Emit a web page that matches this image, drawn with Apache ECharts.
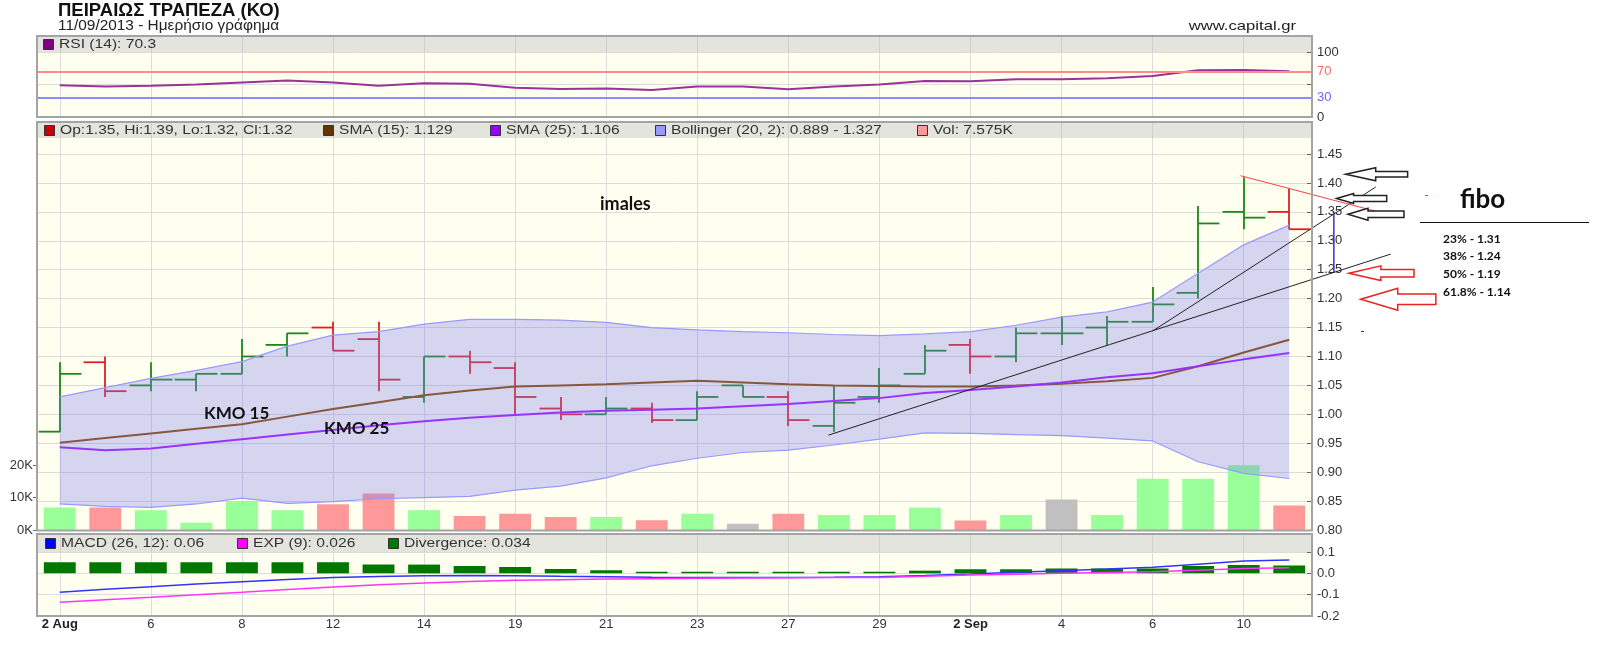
<!DOCTYPE html>
<html><head><meta charset="utf-8">
<script src="https://cdn.jsdelivr.net/npm/echarts@6.0.0/dist/echarts.min.js"></script>
<style>html,body{margin:0;padding:0;background:#fff;}#c{width:1600px;height:651px;}</style>
</head><body><div id="c"></div>
<script>
// ---------- DATA ----------
const dates = ['2013-08-02','2013-08-05','2013-08-06','2013-08-07','2013-08-08','2013-08-09','2013-08-12','2013-08-13','2013-08-14','2013-08-16','2013-08-19','2013-08-20','2013-08-21','2013-08-22','2013-08-23','2013-08-26','2013-08-27','2013-08-28','2013-08-29','2013-08-30','2013-09-02','2013-09-03','2013-09-04','2013-09-05','2013-09-06','2013-09-09','2013-09-10','2013-09-11'];
const tickLabels = ['2 Aug','6','8','12','14','19','21','23','27','29','2 Sep','4','6','10'];
const opens  = [0.97,1.09,1.05,1.06,1.07,1.12,1.15,1.13,1.03,1.10,1.08,1.01,1.00,1.01,0.99,1.05,1.03,0.98,1.03,1.07,1.12,1.10,1.14,1.15,1.16,1.21,1.35,1.35];
const highs  = [1.09,1.10,1.09,1.07,1.13,1.14,1.16,1.16,1.10,1.11,1.09,1.03,1.03,1.02,1.04,1.05,1.04,1.05,1.08,1.12,1.13,1.15,1.17,1.17,1.22,1.36,1.41,1.39];
const lows   = [0.97,1.03,1.04,1.04,1.07,1.10,1.11,1.04,1.02,1.07,1.00,0.99,1.00,0.985,0.99,1.03,0.98,0.97,1.02,1.07,1.07,1.09,1.12,1.12,1.16,1.20,1.32,1.32];
const closes = [1.07,1.04,1.06,1.07,1.10,1.14,1.11,1.06,1.10,1.09,1.03,1.00,1.01,0.99,1.03,1.03,0.99,1.02,1.05,1.11,1.10,1.14,1.14,1.16,1.19,1.33,1.34,1.32];
const volumes = [6900,6900,6100,2200,8900,6100,7900,11200,6100,4300,5000,4000,4000,3000,5000,1900,5000,4600,4600,6900,2900,4600,9400,4600,15800,15800,19900,7575];
const sma15 = [0.951,0.959,0.967,0.975,0.983,0.996,1.009,1.021,1.033,1.041,1.048,1.050,1.052,1.055,1.058,1.055,1.052,1.050,1.049,1.048,1.048,1.050,1.053,1.057,1.063,1.083,1.107,1.129];
const sma25 = [0.943,0.938,0.941,0.949,0.957,0.965,0.973,0.981,0.988,0.994,0.999,1.003,1.006,1.008,1.010,1.014,1.018,1.023,1.028,1.037,1.042,1.048,1.055,1.064,1.071,1.083,1.095,1.106];
const bbUpper = [1.030,1.046,1.062,1.076,1.091,1.118,1.137,1.143,1.156,1.164,1.164,1.163,1.159,1.150,1.146,1.143,1.141,1.138,1.136,1.139,1.143,1.154,1.168,1.177,1.194,1.244,1.293,1.327];
const bbLower = [0.845,0.841,0.839,0.845,0.855,0.846,0.849,0.854,0.856,0.858,0.869,0.876,0.890,0.911,0.924,0.934,0.938,0.947,0.957,0.968,0.967,0.965,0.963,0.959,0.954,0.918,0.898,0.889];
const rsi = [49,47,48,50,53,56,53,48,52,51,45,43,44,41.5,47,47,42.6,47,50,55.5,55,58,58,59.5,63,72,72.3,70.3];
const macd = [-0.089,-0.075,-0.0625,-0.050,-0.039,-0.029,-0.020,-0.015,-0.011,-0.010,-0.011,-0.014,-0.016,-0.018,-0.019,-0.019,-0.019,-0.018,-0.016,-0.010,-0.003,0.005,0.0125,0.020,0.028,0.043,0.058,0.063];
const macdExp = [-0.136,-0.124,-0.1125,-0.100,-0.089,-0.076,-0.064,-0.054,-0.045,-0.038,-0.033,-0.030,-0.027,-0.025,-0.023,-0.022,-0.021,-0.020,-0.019,-0.014,-0.008,-0.004,0.0,0.004,0.008,0.015,0.023,0.026];
const divergence = [0.052,0.052,0.052,0.052,0.052,0.052,0.052,0.041,0.041,0.034,0.030,0.020,0.014,0.008,0.007,0.007,0.007,0.007,0.007,0.0125,0.019,0.019,0.023,0.023,0.023,0.034,0.039,0.037];
const rsiLevels = [70, 30];
// hand-drawn annotations, in (bar index, price) units
const trendLines = [[[16.88,0.964],[29.23,1.277]], [[24.0,1.144],[28.9,1.393]]];
const resistLine = [[25.93,1.4125],[28.9,1.351]];
const fiboSpan = [[27.98,1.35],[27.98,1.246]];
const blackArrows = [[28.24,1.415,29.60],[28.04,1.373,29.14],[28.29,1.346,29.52]];
const redArrows = [[28.31,1.244,29.74],[28.57,1.199,30.22]];
const fiboLevels = ['23% - 1.31','38% - 1.24','50% - 1.19','61.8% - 1.14'];

// ---------- STYLE / LAYOUT ----------
const L = 37, W = 1275;
const UI = 'Liberation Sans, Arial, sans-serif';
const ANN = 'Lato, Open Sans, sans-serif';
const GRID_C = '#dcdcdc', HEAD_GRID_C = '#cfcfc8', HEAD_BG = '#e4e4de', PLOT_BG = '#fffff0';
const UP = '#1a881a', DOWN = '#e02020';
const volColors = closes.map((c,i)=> i===0 ? '#99ff99' : (c>closes[i-1] ? '#99ff99' : (c<closes[i-1] ? '#ff9999' : '#c0c0c0')));
const barColors = closes.map((c,i)=> i===0 || c>=closes[i-1] ? UP : DOWN);
const blackArrowShapes = [[30,6.5,2.8],[17,5,3],[20,6,3.3]];
const redArrowShapes = [[32,7.3,3.7],[37,11,5.3]];

const grids = [
  {left:L, top:36,  width:W, height:16,  show:true, backgroundColor:HEAD_BG, borderWidth:0},
  {left:L, top:52,  width:W, height:65,  show:true, backgroundColor:PLOT_BG, borderWidth:0},
  {left:L, top:122, width:W, height:16,  show:true, backgroundColor:HEAD_BG, borderWidth:0},
  {left:L, top:138, width:W, height:392, show:true, backgroundColor:PLOT_BG, borderWidth:0},
  {left:L, top:465, width:W, height:65,  show:false},
  {left:L, top:534, width:W, height:18,  show:true, backgroundColor:HEAD_BG, borderWidth:0},
  {left:L, top:552, width:W, height:64,  show:true, backgroundColor:PLOT_BG, borderWidth:0}
];
function catAxis(gi, color, extra){
  return Object.assign({type:'category', gridIndex:gi, data:dates, boundaryGap:true,
    axisLine:{show:false, onZero:false}, axisTick:{show:false}, axisLabel:{show:false},
    splitLine:{show:true, interval:1, alignWithLabel:true, lineStyle:{color:color, width:1}}}, extra||{});
}
const xAxes = [
  catAxis(0, HEAD_GRID_C), catAxis(1, GRID_C), catAxis(2, HEAD_GRID_C), catAxis(3, GRID_C),
  catAxis(4, GRID_C, {show:false}),
  catAxis(5, HEAD_GRID_C),
  catAxis(6, GRID_C, {axisLabel:{show:true, interval:1, margin:2, fontSize:13, color:'#333', fontFamily:UI,
      formatter:(v,i)=>{const t = tickLabels[i/2]; return t.indexOf(' ')>=0 ? '{b|'+t+'}' : t;},
      rich:{b:{fontWeight:'bold', fontSize:13, color:'#222', fontFamily:UI}}}}),
  {type:'value', gridIndex:3, min:-0.5, max:27.5, show:false, axisLine:{onZero:false}}
];
const lab = {color:'#333', fontSize:13, fontFamily:UI, margin:5};
const tickIn = {show:true, inside:true, length:5, lineStyle:{color:'#666'}};
const yAxes = [
  {type:'value', gridIndex:0, min:0, max:1, show:false, axisLine:{onZero:false}},
  {type:'value', gridIndex:1, min:0, max:100, interval:50, position:'right',
    axisLine:{show:false, onZero:false}, axisTick:tickIn,
    axisLabel:Object.assign({}, lab, {formatter:v=> v===50?'':String(v)}),
    splitLine:{show:true, lineStyle:{color:GRID_C}}},
  {type:'value', gridIndex:2, min:0, max:1, show:false, axisLine:{onZero:false}},
  {type:'value', gridIndex:3, min:0.8, max:1.4777, interval:0.05, position:'right',
    axisLine:{show:false, onZero:false}, axisTick:tickIn,
    axisLabel:Object.assign({}, lab, {showMaxLabel:false, formatter:v=>v.toFixed(2)}),
    splitLine:{show:true, showMaxLine:false, lineStyle:{color:GRID_C}}},
  {type:'value', gridIndex:4, min:0, max:20000, interval:10000, position:'left',
    axisLine:{show:false, onZero:false}, axisTick:{show:true, length:4, lineStyle:{color:'#666'}},
    axisLabel:Object.assign({}, lab, {margin:4, formatter:v=>(v/1000)+'K'}),
    splitLine:{show:false}},
  {type:'value', gridIndex:5, min:0, max:1, show:false, axisLine:{onZero:false}},
  {type:'value', gridIndex:6, min:-0.2, max:0.1, interval:0.1, position:'right',
    axisLine:{show:false, onZero:false}, axisTick:tickIn,
    axisLabel:Object.assign({}, lab, {formatter:v=>(Math.abs(v)<1e-9?0:v).toFixed(1)}),
    splitLine:{show:true, lineStyle:{color:GRID_C}}}
];

function arrowSeries(data, shapes, color){
  return {type:'custom', xAxisIndex:7, yAxisIndex:3, clip:false, silent:true, z:10,
    data:data, encode:{x:0, y:1},
    renderItem:(params, api)=>{
      const tip = api.coord([api.value(0), api.value(1)]);
      const tail = api.coord([api.value(2), api.value(1)]);
      const s = shapes[params.dataIndex];
      const x0 = tip[0], y0 = tip[1], xb = x0 + s[0], xt = tail[0];
      return {type:'polygon', shape:{points:[[x0,y0],[xb,y0-s[1]],[xb,y0-s[2]],[xt,y0-s[2]],[xt,y0+s[2]],[xb,y0+s[2]],[xb,y0+s[1]]]},
        style:{fill:'#ffffff', stroke:color, lineWidth:1.5}};
    }};
}
function annLines(segs, color, width){
  return {type:'custom', xAxisIndex:7, yAxisIndex:3, clip:false, silent:true, z:9,
    data:segs.map(s=>[s[0][0], s[0][1], s[1][0], s[1][1]]), encode:{x:[0,2], y:[1,3]},
    renderItem:(params, api)=>{
      const a = api.coord([api.value(0), api.value(1)]);
      const b = api.coord([api.value(2), api.value(3)]);
      return {type:'line', shape:{x1:a[0], y1:a[1], x2:b[0], y2:b[1]}, style:{stroke:color, lineWidth:width}};
    }};
}

const series = [
  {type:'line', name:'RSI', xAxisIndex:1, yAxisIndex:1, data:rsi, symbol:'none', silent:true,
    lineStyle:{color:'#993399', width:2},
    markLine:{symbol:'none', silent:true, animation:false,
      data:[
        {yAxis:rsiLevels[0], lineStyle:{color:'#ff8c8c', width:2, type:'solid'}, label:{formatter:String(rsiLevels[0]), color:'#ff6666', fontSize:13, fontFamily:UI, distance:5}},
        {yAxis:rsiLevels[1], lineStyle:{color:'#8c8cff', width:2, type:'solid'}, label:{formatter:String(rsiLevels[1]), color:'#6666ff', fontSize:13, fontFamily:UI, distance:5}}
      ]}, z:2},
  {type:'bar', name:'Vol', xAxisIndex:4, yAxisIndex:4, barWidth:'70%', silent:true,
    data:volumes.map((v,i)=>({value:v, itemStyle:{color:volColors[i]}}))},
  {type:'line', name:'bbLow', xAxisIndex:3, yAxisIndex:3, stack:'bb', data:bbLower, symbol:'none', silent:true,
    lineStyle:{color:'#9999ff', width:1.2}},
  {type:'line', name:'bbBand', xAxisIndex:3, yAxisIndex:3, stack:'bb', data:bbUpper.map((u,i)=>+(u-bbLower[i]).toFixed(4)), symbol:'none', silent:true,
    lineStyle:{color:'#9999ff', width:1.2}, areaStyle:{color:'rgba(125,125,235,0.32)', opacity:1}},
  {type:'line', name:'SMA15', xAxisIndex:3, yAxisIndex:3, data:sma15, symbol:'none', silent:true,
    lineStyle:{color:'#87583a', width:2}},
  {type:'line', name:'SMA25', xAxisIndex:3, yAxisIndex:3, data:sma25, symbol:'none', silent:true,
    lineStyle:{color:'#9933ff', width:2}},
  {type:'custom', name:'OHLC', xAxisIndex:3, yAxisIndex:3, silent:true,
    data:dates.map((d,i)=>[i, opens[i], highs[i], lows[i], closes[i]]),
    encode:{x:0, y:[1,2,3,4]},
    renderItem:(params, api)=>{
      const i = api.value(0);
      const pO = api.coord([i, api.value(1)]), pH = api.coord([i, api.value(2)]);
      const pL = api.coord([i, api.value(3)]), pC = api.coord([i, api.value(4)]);
      const w = api.size([1,0])[0]*0.47;
      const st = {stroke:barColors[params.dataIndex], lineWidth:1.8};
      const x = Math.round(pH[0]);
      return {type:'group', children:[
        {type:'line', shape:{x1:x, y1:pH[1], x2:x, y2:pL[1]}, style:st},
        {type:'line', shape:{x1:x-w, y1:pO[1], x2:x, y2:pO[1]}, style:st},
        {type:'line', shape:{x1:x, y1:pC[1], x2:x+w, y2:pC[1]}, style:st}
      ]};
    }},
  annLines(trendLines, '#222', 1),
  annLines([resistLine], '#ff4040', 1),
  annLines([fiboSpan], '#3333cc', 1.5),
  arrowSeries(blackArrows, blackArrowShapes, '#222'),
  arrowSeries(redArrows, redArrowShapes, '#ee2020'),
  {type:'bar', name:'Divergence', xAxisIndex:6, yAxisIndex:6, data:divergence, barWidth:'70%', silent:true,
    itemStyle:{color:'#007700'}},
  {type:'line', name:'MACD', xAxisIndex:6, yAxisIndex:6, data:macd, symbol:'none', silent:true,
    lineStyle:{color:'#3333ff', width:1.5}},
  {type:'line', name:'EXP', xAxisIndex:6, yAxisIndex:6, data:macdExp, symbol:'none', silent:true,
    lineStyle:{color:'#ff33ff', width:1.5}}
];

// ---------- GRAPHICS (text, frames) ----------
function txt(x, y, text, size, opts){
  opts = opts || {};
  return {type:'text', x:x, y:y, scaleX:opts.sx||1, z:100, silent:true,
    style:{text:text, fontSize:size, fontFamily:opts.ff||UI, fontWeight:opts.fw||'normal', fill:opts.fill||'#222',
      align:opts.align||'left', verticalAlign:'middle', textAlign:opts.align||'left', textVerticalAlign:'middle'}};
}
const g = [];
g.push(txt(58, 10.5, 'ΠΕΙΡΑΙΩΣ ΤΡΑΠΕΖΑ (ΚΟ)', 18.5, {fw:'bold', fill:'#111'}));
g.push(txt(58, 26.5, '11/09/2013 - Ημερήσιο γράφημα', 14, {sx:1.1, fill:'#222'}));
g.push(txt(1296, 26, 'www.capital.gr', 13, {align:'right', sx:1.28, fill:'#222'}));
function legend(items, xs, y){
  items.forEach((it, k)=>{
    g.push({type:'rect', z:100, silent:true, shape:{x:xs[k]+0.5, y:y-5+0.5, width:10, height:10},
      style:{fill:it[1], stroke:'#333', lineWidth:1}});
    g.push(txt(xs[k]+16, y+0.5, it[0], 12, {sx:1.3, fill:'#333'}));
  });
}
legend([['RSI (14): 70.3','#800080']], [43], 44);
legend([['Op:1.35, Hi:1.39, Lo:1.32, Cl:1.32','#cc0000'],['SMA (15): 1.129','#663300'],['SMA (25): 1.106','#9900ff'],
        ['Bollinger (20, 2): 0.889 - 1.327','#9999ff'],['Vol: 7.575K','#ff9999']], [44,323,490,655,917], 130);
legend([['MACD (26, 12): 0.06','#0000ff'],['EXP (9): 0.026','#ff00ff'],['Divergence: 0.034','#007700']], [45,237,388], 543);
[[36,81],[122,408.5],[534,82]].forEach(f=>{
  g.push({type:'rect', z:101, silent:true, shape:{x:L, y:f[0], width:W, height:f[1]}, style:{fill:'none', stroke:'#a4a4a4', lineWidth:2}});
});
g.push(txt(600, 204, 'imales', 18, {ff:ANN, fw:'bold', fill:'#111'}));
g.push(txt(204, 414, 'KMO 15', 17, {ff:ANN, fw:'bold', fill:'#111'}));
g.push(txt(324, 428.5, 'KMO 25', 17, {ff:ANN, fw:'bold', fill:'#111'}));
g.push(txt(1460, 200, 'fibo', 26, {ff:ANN, fw:'bold', fill:'#111'}));
g.push({type:'line', z:100, silent:true, shape:{x1:1420, y1:222.5, x2:1589, y2:222.5}, style:{stroke:'#111', lineWidth:1}});
fiboLevels.forEach((t,k)=> g.push(txt(1443, 239 + k*17.6, t, 12, {ff:ANN, fw:'bold', fill:'#111'})));
g.push({type:'line', z:100, silent:true, shape:{x1:1361, y1:331.5, x2:1364, y2:331.5}, style:{stroke:'#333', lineWidth:1}});
g.push({type:'line', z:100, silent:true, shape:{x1:1425, y1:195.5, x2:1428, y2:195.5}, style:{stroke:'#ff4040', lineWidth:1}});

const chart = echarts.init(document.getElementById('c'), null, {renderer:'canvas'});
chart.setOption({animation:false, backgroundColor:'#ffffff', grid:grids, xAxis:xAxes, yAxis:yAxes, series:series, graphic:{elements:g}});
</script>
</body></html>
